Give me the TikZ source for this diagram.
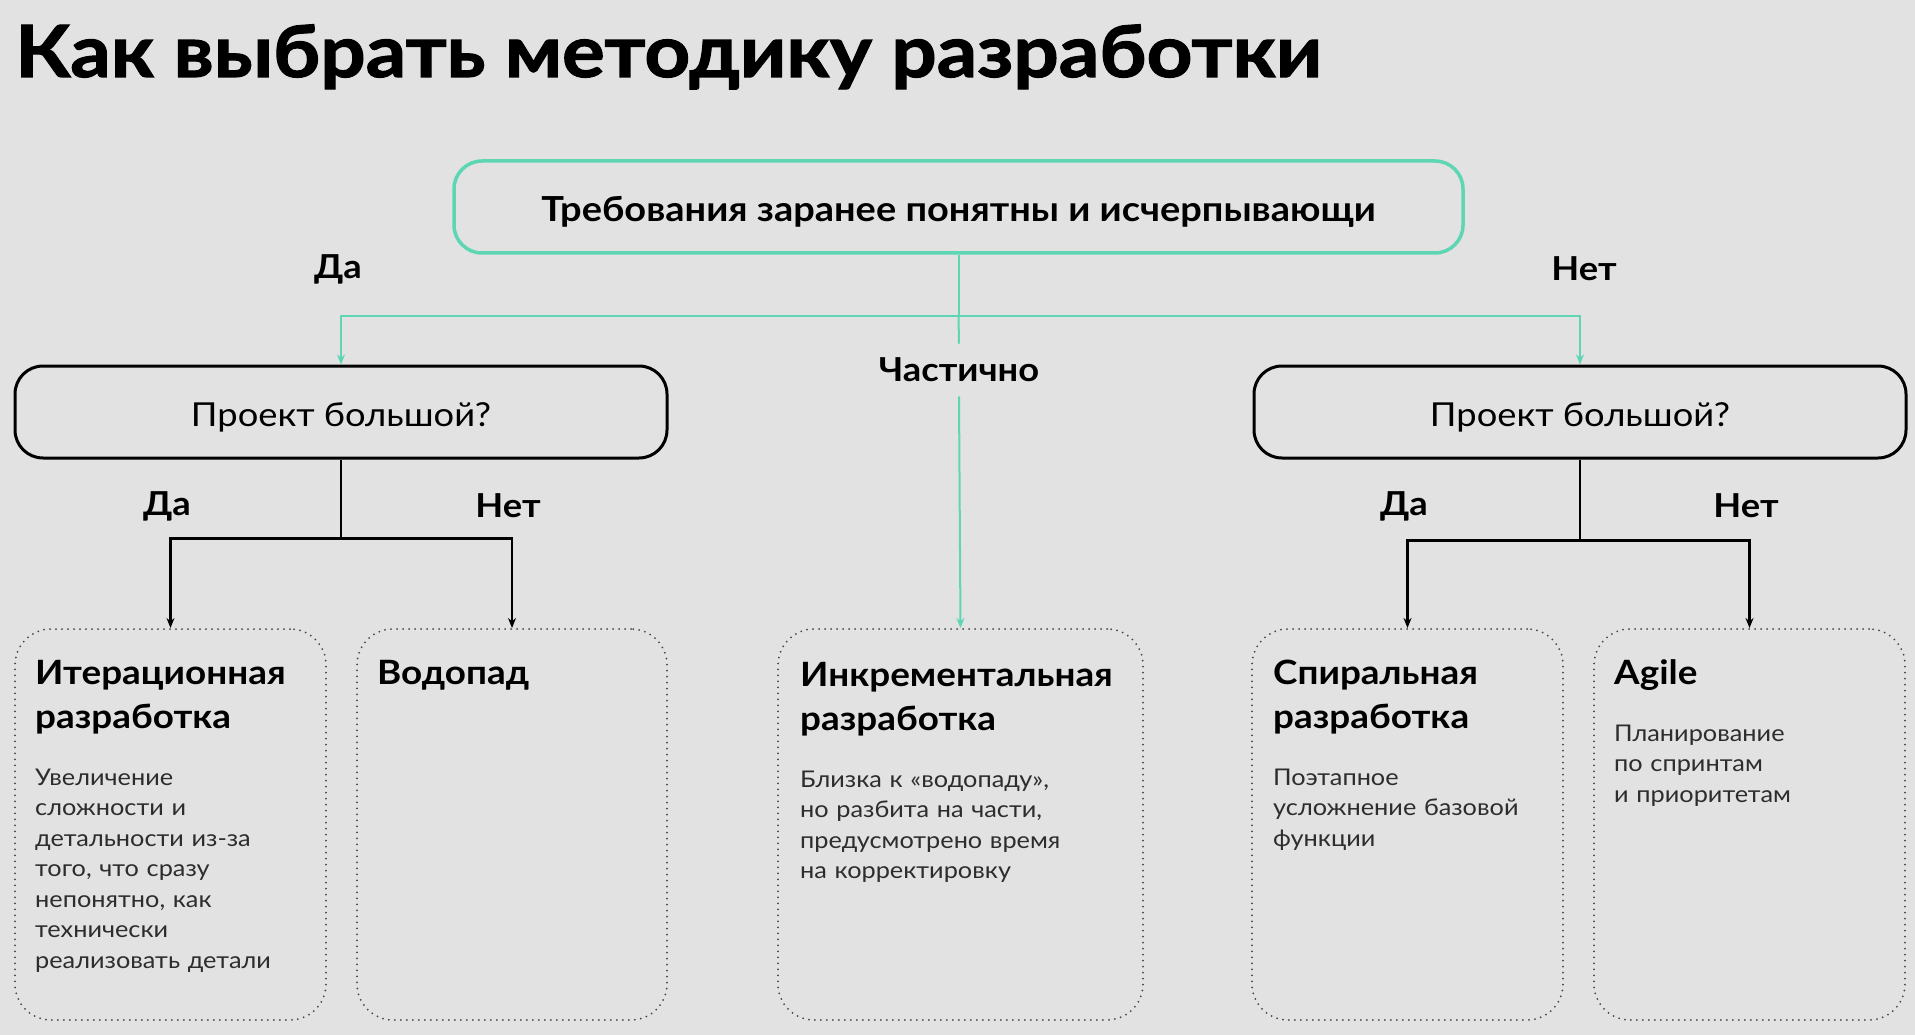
\documentclass[tikz,border=0pt]{standalone}
\usepackage{fontspec}
\setmainfont{Lato}[FakeStretch=1.1]
\newfontfamily\titlefont{Lato}[FakeStretch=1.11,BoldFeatures={FakeBold=1.6}]
\usetikzlibrary{arrows.meta}
\definecolor{bgc}{RGB}{226,226,226}
\definecolor{tealc}{RGB}{94,214,180}
\definecolor{bodyc}{RGB}{45,45,45}
\definecolor{dotc}{RGB}{70,70,70}
\begin{document}
\begin{tikzpicture}[x=1pt,y=-1pt,
  tip/.style={-{Stealth[length=10pt,width=8pt]}},
  tl/.style={draw=tealc,line width=2pt},
  bl/.style={draw=black,line width=2.4pt},
  topbox/.style={draw=tealc,line width=3.5pt,rounded corners=28pt,minimum width=1009pt,minimum height=92pt,inner sep=0pt,text height=30pt,text depth=0pt,font=\fontsize{34.5}{40}\selectfont\bfseries},
  qbox/.style={draw=black,line width=3pt,rounded corners=28pt,minimum width=652pt,minimum height=92pt,inner sep=0pt,text height=29pt,text depth=0pt,font=\fontsize{33}{40}\selectfont},
  lbl/.style={font=\fontsize{33}{36}\selectfont\bfseries,inner sep=0pt},
  mbox/.style={draw=dotc,line width=2pt,dash pattern=on 0pt off 6pt,line cap=round,rounded corners=36pt,minimum height=391pt,inner sep=0pt},
  mtitle/.style={anchor=base west,inner sep=0pt,text width=340pt,align=left,font=\fontsize{33.5}{44}\selectfont\bfseries},
  mbody/.style={anchor=base west,inner sep=0pt,text width=300pt,align=left,text=bodyc,font=\fontsize{23}{30.5}\selectfont},
]
\fill[bgc] (0,0) rectangle (1915,1035);
\useasboundingbox (0,0) rectangle (1915,1035);

\node[anchor=base west,inner sep=0pt,font=\titlefont\fontsize{72}{80}\selectfont\bfseries] (title) at (15,77) {Как выбрать методику разработки};

\node[topbox] (top) at (958.5,207) {Требования заранее понятны и исчерпывающи};
\node[lbl] (da0) at (338,269) {Да};
\node[lbl] (net0) at (1584,269) {Нет};
\node[lbl,inner sep=14pt] (part) at (959,370) {Частично};

\node[qbox] (ql) at (341,412) {Проект большой?};
\node[qbox] (qr) at (1580,412) {Проект большой?};

\node[lbl] (da1) at (167,506) {Да};
\node[lbl] (net1) at (508,506) {Нет};
\node[lbl] (da2) at (1404,506) {Да};
\node[lbl] (net2) at (1746,506) {Нет};

\node[mbox,minimum width=311pt] (b1) at (170.5,824.5) {};
\node[mbox,minimum width=310pt] (b2) at (512,824.5) {};
\node[mbox,minimum width=365pt] (b3) at (960.5,824.5) {};
\node[mbox,minimum width=311pt] (b4) at (1407.5,824.5) {};
\node[mbox,minimum width=311pt] (b5) at (1749.5,824.5) {};

\node[mtitle] (t1) at (35,684) {Итерационная\\разработка};
\node[mbody] (d1) at (35,785) {Увеличение\\сложности и\\детальности из-за\\того, что сразу\\непонятно, как\\технически\\реализовать детали};
\node[mtitle] (t2) at (377,684) {Водопад};
\node[mtitle] (t3) at (800,686) {Инкрементальная\\разработка};
\node[mbody] (d3) at (800,787) {Близка к «водопаду»,\\но разбита на части,\\предусмотрено время\\на корректировку};
\node[mtitle] (t4) at (1273,684) {Спиральная\\разработка};
\node[mbody] (d4) at (1273,785) {Поэтапное\\усложнение базовой\\функции};
\node[mtitle] (t5) at (1614,684) {Agile};
\node[mbody] (d5) at (1614,741) {Планирование\\по спринтам\\и приоритетам};

% teal connectors
\draw[tl] (top.south) -- ++(0,61) coordinate (j0);
\draw[tl,tip] (j0) -| (ql.north);
\draw[tl,tip] (j0) -| (qr.north);
\draw[tl] (j0) -- (part.north);
\draw[tl,tip] (part.south) -- (b3.north);

% black connectors
\draw[bl] (ql.south) -- ++(0,79) coordinate (jl);
\draw[bl,tip] (jl) -| (b1.north);
\draw[bl,tip] (jl) -| (b2.north);
\draw[bl] (qr.south) -- ++(0,81) coordinate (jr);
\draw[bl,tip] (jr) -| (b4.north);
\draw[bl,tip] (jr) -| (b5.north);
\end{tikzpicture}
\end{document}
